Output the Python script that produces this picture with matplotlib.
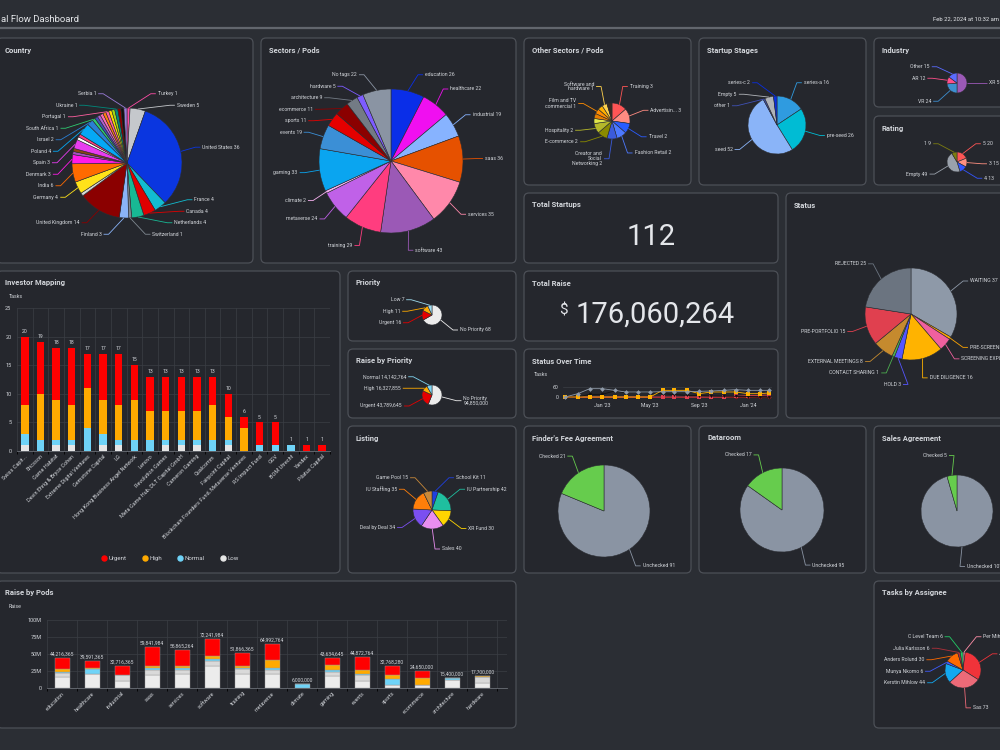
import numpy as np
import pandas as pd
import matplotlib
matplotlib.use('Agg')
import matplotlib.pyplot as plt
import matplotlib.dates as mdates
from matplotlib.patches import FancyBboxPatch
from matplotlib.lines import Line2D

plt.rcParams['font.family'] = ['Roboto', 'DejaVu Sans']

# ---------------- data ----------------
country_names = ['Turkey', 'Sweden', 'United States', 'France', 'Canada', 'Netherlands', 'Switzerland',
                 'Finland', 'United Kingdom', None, 'Germany', 'India', 'Denmark', None, None,
                 'Spain', None, None, 'Poland', 'Israel', 'South Africa', None, None, None, None,
                 'Portugal', None, None, 'Ukraine', None, None, 'Serbia']
country_values = [1, 5, 36, 4, 4, 4, 1, 3, 14, 1, 4, 6, 3, 1, 1, 3, 1, 1, 4, 2, 1, 1, 1, 1, 1,
                  1, 1, 1, 1, 1, 1, 1]
country_colors = ['#ff4da6', '#c5c8cc', '#0a36e0', '#12bcd0', '#e00000', '#18b894', '#7f8890',
                  '#8ab4f8', '#8b0000', '#d8d8d8', '#ffe21a', '#ff6a00', '#ff1ae8', '#a64fc0',
                  '#8b4513', '#e83cf0', '#ffffff', '#ff3d7f', '#05a8f5', '#2a7fd4', '#2ecc71',
                  '#3f51b5', '#b05fd0', '#ff69b4', '#ff7f0e', '#ff5fa0', '#ffd700', '#a0d911',
                  '#00897b', '#8b0000', '#111111', '#9b7bd8']

sector_names = ['education', 'healthcare', 'industrial', 'saas', 'services', 'software', 'training',
                'metaverse', 'climate', 'gaming', 'events', 'sports', 'ecommerce', 'architecture',
                'hardware', 'No tags']
sector_values = [26, 22, 19, 36, 35, 43, 29, 24, 2, 33, 19, 11, 11, 9, 5, 22]
sector_colors = ['#0a2ee8', '#f00ff0', '#87b3ff', '#e65100', '#ff88aa', '#9b59b6', '#ff3d7f',
                 '#c061e8', '#f7b2f0', '#0aa5f0', '#3b8fd6', '#e50000', '#8b0000', '#737b85',
                 '#7d5cff', '#8a94a3']

other_names = ['Training', 'Advertisin...', 'Travel', 'Fashion Retail', 'Creator and\nSocial\nNetworking',
               'E-commerce', 'Hospitality', None, None, 'Film and TV\ncommercial', None,
               'Software and\nhardware', None]
other_values = [3, 3, 2, 2, 2, 2, 2, 1, 1, 1, 1, 1, 1]
other_colors = ['#ff5555', '#ff8c82', '#2a5cff', '#4d79ff', '#3b5bdb', '#8a8a00', '#b5b82a',
                '#e0e64a', '#e67e00', '#ff8c00', '#ffb000', '#ffd24d', '#3a2a20']

stage_names = ['series-a', 'pre-seed', 'seed', 'other', 'Empty', 'series-c']
stage_values = [16, 26, 52, 1, 5, 2]
stage_colors = ['#2f9be0', '#00bcd4', '#8ab4f8', '#3f51b5', '#b0b3b8', '#0a2ee0']

industry_names = ['XR', 'VR', 'AR', 'Other']
industry_values = [51, 24, 12, 15]
industry_colors = ['#9b59b6', '#3d8fd0', '#ff4f8b', '#5a6bff']

rating_names = ['5', '3', '4', 'Empty', '1']
rating_values = [20, 15, 13, 49, 9]
rating_colors = ['#ff5555', '#ff9080', '#3355ff', '#9aa1ab', '#7d7d10']

priority_names = ['No Priority', 'Urgent', 'High', 'Low']
priority_values = [68, 16, 11, 7]
priority_colors = ['#ececec', '#e60000', '#ffaa00', '#9fdcef']

raisepri_names = ['No Priority\n', 'Urgent', 'High', 'Normal']
raisepri_values = [94850000, 43789645, 16327855, 14142764]
raisepri_colors = ['#ececec', '#e60000', '#ffaa00', '#7fd4f0']

listing_names = ['School Kit', 'IU Partnership', 'XR Fund', 'Sales', 'Deal by Deal', 'IU Staffing',
                 'Game Pool']
listing_values = [11, 42, 30, 40, 34, 35, 15]
listing_colors = ['#1f3fe0', '#1fbf9f', '#ffd500', '#e98ef0', '#7b4ff0', '#ff7f0a', '#c8893a']

status_names = ['WAITING', 'PRE-SCREENING', 'SCREENING EXPLORATION', 'DUE DILIGENCE', 'HOLD',
                'CONTACT SHARING', 'EXTERNAL MEETINGS', 'PRE-PORTFOLIO', 'REJECTED']
status_values = [37, 1, 5, 16, 3, 1, 8, 15, 25]
status_colors = ['#8e99a8', '#ffa500', '#f0609e', '#ffb300', '#5555ff', '#4caf50', '#c58a2e',
                 '#e0404f', '#6b7480']

check_names = ['Unchecked', 'Checked']
finders_values = [91, 21]
dataroom_values = [95, 17]
sales_values = [107, 5]
check_colors = ['#8a94a3', '#66cc4d']

assignee_names = ['Per Mihlow', 'Jussi Lind', 'Sas', 'Kerstin Mihlow', 'Munya Nkomo',
                  'Anders Rolund', 'Julia Karlsson', 'C Level Team']
assignee_values = [5, 80, 73, 44, 6, 30, 6, 6]
assignee_colors = ['#ff8fa8', '#f0333a', '#ec6a78', '#13a8f0', '#3f5cff', '#ff6a00', '#b0303a',
                   '#22cc66']

investors = ['Swiss Capit...', 'Ericsson', 'Game Habitat', 'Devin Ehrig & Bryce Cohen',
             'Extreme Digital Ventures', 'Gemstone Capital', 'LG', 'Hong Kong Business Angel Network',
             'Lenovo', 'Revolution Games', 'Meta Game Hub, DLT Capital GmbH', 'Cameron Gaming',
             'Qualcomm', 'Fairpoint Capital', 'Blockchain Founders Fund, Metaverse Ventures',
             'RS Impact Fund', 'GGV', 'BOM Utrecht', 'Yandex', 'Pilatus Capital']
inv_low = [1, 0, 1, 1, 0, 1, 1, 0, 0, 1, 1, 1, 0, 1, 0, 0, 0, 0, 0, 0]
inv_normal = [2, 2, 1, 1, 4, 2, 1, 2, 2, 1, 1, 1, 2, 1, 0, 1, 1, 1, 0, 0]
inv_high = [5, 8, 7, 6, 7, 6, 6, 7, 5, 5, 5, 5, 6, 4, 4, 0, 0, 0, 0, 0]
inv_urgent = [12, 9, 9, 10, 6, 8, 9, 6, 6, 6, 6, 6, 5, 4, 2, 4, 4, 0, 1, 1]
prio_legend = ['Urgent', 'High', 'Normal', 'Low']
prio_colors = ['#ff0000', '#ffaa00', '#6fd3f7', '#e6e6e6']

pods = ['education', 'healthcare', 'industrial', 'saas', 'services', 'software', 'training',
        'metaverse', 'climate', 'gaming', 'events', 'sports', 'ecommerce', 'architecture', 'hardware']
pod_totals = [44216365, 39591365, 32716365, 59841984, 55865264, 72241984, 51866365, 64992764,
              6000000, 43634645, 44872764, 32768280, 24650000, 15400000, 17700000]
# stack segments in millions
pod_none1 = [16, 21, 11, 19, 21, 32, 21, 20, 0, 17, 11, 5, 5, 12, 8]
pod_none2 = [6, 0, 8, 7, 6, 7, 7, 7, 0, 6, 8, 0, 0, 0, 8]
pod_normal = [2, 7, 0.7, 3, 3, 3, 2, 3, 6, 4, 1, 8, 0, 3.4, 0]
pod_high = [4, 2, 0, 4, 3, 5, 3, 11, 0, 7, 6, 6, 9, 0, 1.7]
pod_urgent = [16.2, 9.6, 13, 26.8, 22.9, 25.2, 18.9, 24, 0, 9.6, 18.9, 13.8, 10.65, 0, 0]
raise_ticks = [0, 25, 50, 75, 100]
raise_ticklabels = ['0', '25M', '50M', '75M', '100M']

sot_dates = list(pd.date_range('2022-10-01', '2024-02-01', freq='MS')) + [pd.Timestamp('2024-02-22')]
sot_gray = [0, 20, 50, 50, 40, 30, 30, 30, 32, 32, 32, 34, 36, 40, 44, 40, 40, 40]
sot_amber = [0, 0, 0, 0, 0, 0, 0, 0, 40, 40, 40, 20, 30, 30, 30, 20, 20, 24]
sot_black = [0, 0, 16, 16, 36, 26, 28, 26, 20, 15, 10, 8, 6, 5, 4, 2, 0, 0]
sot_red = [0, 0, 0, 0, 0, 0, 0, 0, 0, 0, 0, 0, 0, 0, 4, 8, 10, 12]
sot_dark = [0] * 18

# ---------------- style ----------------
H = 750
PAGE = '#2b2e34'
PANEL = '#25272d'
EDGE = '#4c5057'
TXT = '#d3d6db'
GRID = '#3b3e45'
AXIS = '#6b6f77'
FS = 3.7


def Y(y):
    return H - y


fig = plt.figure(figsize=(10, 7.5), dpi=100)
fig.patch.set_facecolor(PAGE)
bg = fig.add_axes([0, 0, 1, 1])
bg.axis('off')


def panel(x0, y0, x1, y1, title):
    bg.add_patch(FancyBboxPatch((x0, Y(y1)), x1 - x0, y1 - y0,
                                boxstyle='round,pad=0,rounding_size=5',
                                fc=PANEL, ec=EDGE, lw=0.9, zorder=1))
    bg.text(x0 + 8, Y(y0 + 12), title, color=TXT, fontsize=5.5, fontweight='bold',
            va='center', zorder=5)


def spread(ideal, heights, lo, hi):
    order = list(np.argsort(ideal))
    clusters = []
    for i in order:
        clusters.append([[i], ideal[i]])
        while len(clusters) > 1:
            a, b = clusters[-2], clusters[-1]
            ha = sum(heights[j] for j in a[0])
            hb = sum(heights[j] for j in b[0])
            if b[1] - hb / 2 < a[1] + ha / 2:
                m = a[0] + b[0]
                clusters[-2:] = [[m, np.mean([ideal[j] for j in m])]]
            else:
                break
    pos = {}
    for m, c in clusters:
        tot = sum(heights[j] for j in m)
        top = c - tot / 2
        for j in m:
            pos[j] = top + heights[j] / 2
            top += heights[j]
    # keep inside bounds without overlaps
    prev = None
    for j in order:
        low = lo + heights[j] / 2 if prev is None else pos[prev] + (heights[prev] + heights[j]) / 2
        pos[j] = max(pos[j], low)
        prev = j
    nxt = None
    for j in order[::-1]:
        high = hi - heights[j] / 2 if nxt is None else pos[nxt] - (heights[nxt] + heights[j]) / 2
        pos[j] = min(pos[j], high)
        nxt = j
    return pos


def pie(cx, cy, r, names, values, colors, fmt=str, dist=20, gap=11.5, lo=None, hi=None):
    wedges, _ = bg.pie(values, colors=colors, radius=r, center=(cx, Y(cy)), startangle=90,
                       counterclock=False, frame=True,
                       wedgeprops=dict(edgecolor='#2c2e33', linewidth=0.4))
    for w in wedges:
        w.set_zorder(3)
    R = r + dist
    lo = cy - R - 14 if lo is None else lo
    hi = cy + R + 14 if hi is None else hi
    items = []
    for w, name, v in zip(wedges, names, values):
        if name is None:
            continue
        a = np.deg2rad((w.theta1 + w.theta2) / 2)
        side = 1 if np.cos(a) >= 0 else -1
        sep = '' if name.endswith('\n') else ' '
        lab = name + sep + fmt(v)
        nl = lab.count('\n')
        items.append(dict(a=a, side=side, lab=lab, col=w.get_facecolor(),
                          y=cy - R * np.sin(a), h=gap + nl * 5.5))
    for side in (1, -1):
        grp = [it for it in items if it['side'] == side]
        if not grp:
            continue
        pos = spread([it['y'] for it in grp], [it['h'] for it in grp], lo, hi)
        for k, it in enumerate(grp):
            ly = pos[k]
            dx = np.sqrt(max(R ** 2 - (ly - cy) ** 2, 0))
            lx = cx + side * max(dx, 8)
            ex, ey = cx + r * np.cos(it['a']), cy - r * np.sin(it['a'])
            bg.plot([ex, lx - side * 5, lx], [Y(ey), Y(ly), Y(ly)], color=it['col'],
                    lw=0.6, zorder=4, solid_capstyle='butt')
            bg.text(lx + side * 2, Y(ly), it['lab'], ha='left' if side > 0 else 'right',
                    va='center', fontsize=FS, color=TXT, linespacing=1.0, zorder=6)


def money(v):
    return f'{v:,}'


# header
bg.text(1, Y(19), 'al Flow Dashboard', color='#e6e8eb', fontsize=6.8, va='center')
bg.text(999, Y(19), 'Feb 22, 2024 at 10:32 am', color='#e6e8eb', fontsize=4.2, va='center',
        ha='right')
bg.plot([0, 1000], [Y(28), Y(28)], color='#62666d', lw=1.6)

# panels
panel(-3, 38, 253, 263, 'Country')
panel(261, 38, 516, 263, 'Sectors / Pods')
panel(524, 38, 691, 185, 'Other Sectors / Pods')
panel(699, 38, 866, 185, 'Startup Stages')
panel(874, 38, 1010, 107, 'Industry')
panel(874, 116, 1010, 185, 'Rating')
panel(524, 193, 778, 263, 'Total Startups')
panel(786, 193, 1010, 418, 'Status')
panel(-3, 271, 340, 573, 'Investor Mapping')
panel(348, 271, 516, 341, 'Priority')
panel(524, 271, 778, 341, 'Total Raise')
panel(348, 349, 516, 418, 'Raise by Priority')
panel(524, 349, 778, 418, 'Status Over Time')
panel(348, 426, 516, 573, 'Listing')
panel(524, 426, 691, 573, "Finder's Fee Agreement")
panel(699, 426, 866, 573, 'Dataroom')
panel(874, 426, 1010, 573, 'Sales Agreement')
panel(-3, 581, 516, 728, 'Raise by Pods')
panel(874, 581, 1010, 728, 'Tasks by Assignee')

# pies
pie(127, 163, 55, country_names, country_values, country_colors, lo=88, hi=240)
pie(391, 161, 72, sector_names, sector_values, sector_colors, lo=69)
pie(612, 121, 18, other_names, other_values, other_colors, lo=78, hi=170)
pie(777, 125, 29, stage_names, stage_values, stage_colors, lo=77)
pie(957, 83, 10, industry_names, industry_values, industry_colors, lo=61, hi=107)
pie(957, 162, 10, rating_names, rating_values, rating_colors, lo=138, hi=184)
pie(432, 315, 10, priority_names, priority_values, priority_colors, lo=294, hi=336)
pie(432, 395, 10, raisepri_names, raisepri_values, raisepri_colors, fmt=money, lo=371, hi=414)
pie(432, 510, 19, listing_names, listing_values, listing_colors, lo=472)
pie(911, 314, 46, status_names, status_values, status_colors)
pie(604, 511, 46, check_names, finders_values, check_colors)
pie(782, 510, 42, check_names, dataroom_values, check_colors)
pie(957, 511, 36, check_names, sales_values, check_colors)
pie(963, 670, 18, assignee_names, assignee_values, assignee_colors, lo=631)

# big numbers
bg.text(651, Y(237), '112', fontsize=21, ha='center', va='center', color='#e4e6ea', zorder=6)
bg.text(563, Y(311), '$', fontsize=11, ha='center', va='center', color='#e4e6ea', zorder=6)
bg.text(576, Y(315), '176,060,264', fontsize=21, ha='left', va='center', color='#e4e6ea',
        zorder=6)

bg.set_xlim(0, 1000)
bg.set_ylim(0, H)


def style(ax, n):
    ax.set_facecolor('none')
    for s in ['top', 'right', 'left']:
        ax.spines[s].set_visible(False)
    ax.spines['bottom'].set_color(AXIS)
    ax.spines['bottom'].set_linewidth(0.6)
    ax.tick_params(colors=TXT, labelsize=4.0, width=0.5, color=AXIS)
    ax.tick_params(axis='y', length=0, pad=4)
    ax.tick_params(axis='x', which='major', length=0, pad=2)
    ax.tick_params(axis='x', which='minor', length=2.5)
    ax.set_xticks(np.arange(-0.5, n), minor=True)
    ax.grid(axis='y', color=GRID, lw=0.5)
    ax.grid(axis='x', which='minor', color=GRID, lw=0.5)
    ax.set_axisbelow(True)


# investor mapping
ax = fig.add_axes([17 / 1000, Y(451) / H, 313 / 1000, 143 / H])
x = np.arange(len(investors))
bottom = np.zeros(len(x))
for vals, col in zip([inv_low, inv_normal, inv_high, inv_urgent], prio_colors[::-1]):
    ax.bar(x, vals, 0.47, bottom=bottom, color=col, lw=0)
    bottom += np.array(vals)
for xi, t in zip(x, bottom):
    ax.text(xi, t + 0.5, f'{int(t)}', ha='center', va='bottom', fontsize=3.7, color=TXT)
ax.set_xlim(-0.5, len(x) - 0.5)
ax.set_ylim(0, 25)
ax.set_yticks([0, 5, 10, 15, 20, 25])
ax.set_xticks(x)
ax.set_xticklabels(investors, rotation=45, ha='right', rotation_mode='anchor')
style(ax, len(x))
bg.text(9, Y(297), 'Tasks', fontsize=3.8, color=TXT, va='center')
handles = [Line2D([], [], marker='o', ls='', color=c, markersize=3.6, label=l)
           for l, c in zip(prio_legend, prio_colors)]
ax.legend(handles=handles, loc='center', bbox_to_anchor=(170 / 1000, Y(558) / H),
          bbox_transform=fig.transFigure, ncol=4, frameon=False, fontsize=4.4, labelcolor=TXT,
          handletextpad=0.3, columnspacing=2.4, handlelength=1)

# raise by pods
ax = fig.add_axes([47 / 1000, Y(688) / H, 460 / 1000, 68 / H])
x = np.arange(len(pods))
bottom = np.zeros(len(x))
for vals, col in zip([pod_none1, pod_none2, pod_normal, pod_high, pod_urgent],
                     ['#ececec', '#d9d9d9', '#6fd3f7', '#ffaa00', '#ff0000']):
    ax.bar(x, vals, 0.5, bottom=bottom, color=col, edgecolor='#9a9a9a', lw=0.3)
    bottom += np.array(vals)
for xi, t, tot in zip(x, bottom, pod_totals):
    ax.text(xi, t + 2, f'{tot:,}', ha='center', va='bottom', fontsize=3.6, color=TXT)
ax.set_xlim(-0.5, len(x) - 0.17)
ax.set_ylim(0, 100)
ax.set_yticks(raise_ticks)
ax.set_yticklabels(raise_ticklabels)
ax.set_xticks(x)
ax.set_xticklabels(pods, rotation=45, ha='right', rotation_mode='anchor')
style(ax, len(x))
bg.text(9, Y(607), 'Raise', fontsize=3.8, color=TXT, va='center')

# status over time
ax = fig.add_axes([563 / 1000, Y(399) / H, 209 / 1000, 16 / H])
for vals, col, mk in [(sot_dark, '#8b1a1a', 'o'), (sot_red, '#e04050', 's'),
                      (sot_black, '#111111', 'v'), (sot_amber, '#ffb000', 's'),
                      (sot_gray, '#8f9aa8', 'D')]:
    ax.plot(sot_dates, vals, color=col, lw=0.6, marker=mk, markersize=2.4, markeredgewidth=0)
ax.set_ylim(-12, 84)
ax.set_yticks([0, 60])
ax.set_xlim(pd.Timestamp('2022-09-25'), pd.Timestamp('2024-03-01'))
ax.xaxis.set_major_locator(mdates.MonthLocator(bymonth=[1, 5, 9]))
ax.xaxis.set_major_formatter(mdates.DateFormatter("%b '%y"))
ax.set_facecolor('none')
for s in ax.spines.values():
    s.set_visible(False)
ax.tick_params(colors=TXT, labelsize=3.7, length=0, pad=3)
ax.grid(axis='y', color=GRID, lw=0.5)
bg.text(534, Y(375), 'Tasks', fontsize=3.8, color=TXT, va='center')

fig.savefig('out.png', dpi=100, facecolor=PAGE)
